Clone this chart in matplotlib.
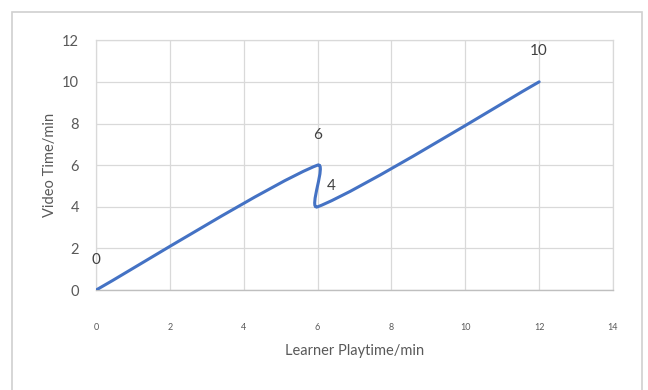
import numpy as np
import matplotlib
matplotlib.use('Agg')
import matplotlib.pyplot as plt
from matplotlib.path import Path
from matplotlib.patches import PathPatch, Rectangle

# Data points (Excel smoothed scatter)
learner_time = [0, 6, 6, 12]
video_time = [0, 6, 4, 10]
point_labels = ['0', '6', '4', '10']
label_offsets = [(0, 22), (0, 22), (10, 15), (0, 22)]

x_ticks = [0, 2, 4, 6, 8, 10, 12, 14]
y_ticks = [0, 2, 4, 6, 8, 10, 12]

plt.rcParams['font.family'] = ['Lato', 'DejaVu Sans']
text_color = '#595959'
grid_color = '#d9d9d9'
line_color = '#4472C4'


def smooth_path(xs, ys, k=0.16):
    # bezier curve through the points, control points along the neighbour direction
    pts = np.column_stack([xs, ys]).astype(float)
    n = len(pts)
    verts = [pts[0]]
    codes = [Path.MOVETO]
    for i in range(n - 1):
        p1, p2 = pts[i], pts[i + 1]
        seg = np.linalg.norm(p2 - p1)
        t1 = pts[min(i + 1, n - 1)] - pts[max(i - 1, 0)]
        t2 = pts[min(i + 2, n - 1)] - pts[i]
        c1 = p1 + t1 / np.linalg.norm(t1) * seg * k
        c2 = p2 - t2 / np.linalg.norm(t2) * seg * k
        verts += [c1, c2, p2]
        codes += [Path.CURVE4] * 3
    return Path(verts, codes)


fig = plt.figure(figsize=(6.48, 3.9), dpi=100)
fig.patches.append(Rectangle((0.018, -0.05), 0.972, 1.02, transform=fig.transFigure,
                             fill=False, edgecolor='#d0d0d0', lw=1.2))
ax = fig.add_axes([0.148, 0.256, 0.798, 0.641])

ax.add_patch(PathPatch(smooth_path(learner_time, video_time), fill=False,
                       edgecolor=line_color, lw=2.2, capstyle='round', zorder=3))

for x, y, lab, off in zip(learner_time, video_time, point_labels, label_offsets):
    ax.annotate(lab, (x, y), xytext=off, textcoords='offset points',
                ha='center', va='center', fontsize=11, color='#404040')

ax.set_xlim(0, 14)
ax.set_ylim(0, 12)
ax.set_xticks(x_ticks)
ax.set_yticks(y_ticks)
ax.grid(True, color=grid_color, lw=0.9)
ax.set_axisbelow(True)
for side in ['top', 'right', 'left']:
    ax.spines[side].set_color(grid_color)
    ax.spines[side].set_linewidth(0.9)
ax.spines['bottom'].set_color('#bfbfbf')
ax.spines['bottom'].set_linewidth(1.0)

ax.tick_params(axis='x', length=0, pad=24, labelsize=6.5, labelcolor=text_color)
ax.tick_params(axis='y', length=0, pad=12, labelsize=10.5, labelcolor=text_color)

ax.set_xlabel('Learner Playtime/min', fontsize=10.5, color=text_color, labelpad=8)
ax.set_ylabel('Video Time/min', fontsize=10.5, color=text_color, labelpad=4)

fig.savefig('out.png', dpi=100)
